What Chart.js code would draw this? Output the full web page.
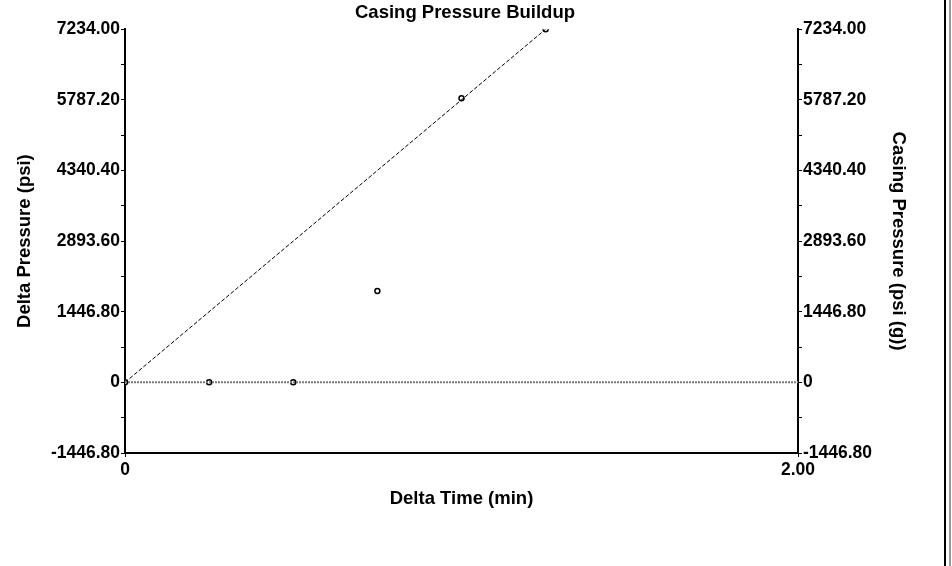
<!DOCTYPE html>
<html>
<head>
<meta charset="utf-8">
<title>Casing Pressure Buildup</title>
<script src="https://cdn.jsdelivr.net/npm/chart.js@4.4.1/dist/chart.umd.min.js"></script>
<style>
    body { margin: 0; background: #fff; }
    #wrap { position: relative; width: 952px; height: 566px; overflow: hidden; }
    #frameDark { position: absolute; left: 944px; top: 0; width: 2px; height: 566px; background: #000; }
    #frameLight { position: absolute; left: 949px; top: 0; width: 2px; height: 566px; background: #9a9a9a; }
</style>
</head>
<body>
<div id="wrap">
    <canvas id="buildupChart" width="952" height="566"></canvas>
    <div id="frameDark"></div>
    <div id="frameLight"></div>
</div>
<script>
// data
const timeMin = [0, 0.25, 0.5, 0.75, 1.0, 1.25];
const casingPsi = [0, 0, 0, 1870, 5820, 7234];
const trendTime = [0, 1.25];
const trendPsi = [0, 7234];
const baseTime = [0, 2.0];
const basePsi = [0, 0];

const yTicks = [-1446.8, 0, 1446.8, 2893.6, 4340.4, 5787.2, 7234];
const yTickLabels = ["-1446.80", "0", "1446.80", "2893.60", "4340.40", "5787.20", "7234.00"];
const xTicks = [0, 2.0];
const xTickLabels = ["0", "2.00"];

const FONT = "'Liberation Sans', Arial, sans-serif";

function toPoints(xs, ys) {
    return xs.map((x, i) => ({ x: x, y: ys[i] }));
}

// major ticks plus unlabeled minor ticks half way between
function yTickList() {
    const list = [];
    yTicks.forEach((v, i) => {
        list.push({ value: v });
        if (i < yTicks.length - 1) list.push({ value: (v + yTicks[i + 1]) / 2, minor: true });
    });
    return list;
}

function yLabel(value) {
    const i = yTicks.findIndex(v => Math.abs(v - value) < 0.01);
    return i >= 0 ? yTickLabels[i] : "";
}

const tickFont = { family: FONT, size: 17.5, weight: "bold" };
const titleFont = { family: FONT, size: 18.5, weight: "bold" };

new Chart(document.getElementById("buildupChart"), {
    type: "line",
    data: {
        datasets: [
            {
                label: "Zero",
                data: toPoints(baseTime, basePsi),
                borderColor: "#7a7a7a",
                borderWidth: 2,
                borderDash: [2, 1],
                pointRadius: 0,
                yAxisID: "y"
            },
            {
                label: "Trend",
                data: toPoints(trendTime, trendPsi),
                borderColor: "#000",
                borderWidth: 1,
                borderDash: [4, 2],
                pointRadius: 0,
                yAxisID: "y"
            },
            {
                label: "Casing Pressure",
                data: toPoints(timeMin, casingPsi),
                showLine: false,
                pointRadius: 2.5,
                pointBorderWidth: 1.5,
                pointBorderColor: "#000",
                pointBackgroundColor: "#fff",
                yAxisID: "y"
            }
        ]
    },
    options: {
        responsive: false,
        animation: false,
        layout: { padding: { left: 0, right: 22, top: 0, bottom: 0 } },
        plugins: {
            legend: { display: false },
            tooltip: { enabled: false },
            title: {
                display: true,
                text: "Casing Pressure Buildup",
                color: "#000",
                font: titleFont,
                padding: { top: 2, bottom: 5 }
            }
        },
        scales: {
            x: {
                type: "linear",
                position: "bottom",
                min: 0,
                max: 2,
                afterBuildTicks: s => { s.ticks = xTicks.map(v => ({ value: v })); },
                afterFit: s => { s.height = 113; },
                ticks: {
                    color: "#000",
                    font: tickFont,
                    padding: 3,
                    maxRotation: 0,
                    autoSkip: false,
                    callback: v => xTickLabels[xTicks.indexOf(v)]
                },
                grid: { drawOnChartArea: false, tickLength: 4, color: "#000" },
                border: { color: "#000", width: 2 },
                title: {
                    display: true,
                    text: "Delta Time (min)",
                    color: "#000",
                    font: titleFont,
                    padding: { top: 0, bottom: 56 }
                }
            },
            y: {
                type: "linear",
                position: "left",
                min: -1446.8,
                max: 7234,
                afterBuildTicks: s => { s.ticks = yTickList(); },
                afterFit: s => { s.width = 125; },
                ticks: {
                    color: "#000",
                    font: tickFont,
                    padding: 1,
                    autoSkip: false,
                    callback: v => yLabel(v)
                },
                grid: { drawOnChartArea: false, tickLength: 4, color: "#000" },
                border: { color: "#000", width: 2 },
                title: {
                    display: true,
                    text: "Delta Pressure (psi)",
                    color: "#000",
                    font: titleFont,
                    padding: { top: 14, bottom: 0 }
                }
            },
            y2: {
                type: "linear",
                position: "right",
                min: -1446.8,
                max: 7234,
                afterBuildTicks: s => { s.ticks = yTickList(); },
                afterFit: s => { s.width = 132; },
                ticks: {
                    color: "#000",
                    font: tickFont,
                    padding: 1,
                    autoSkip: false,
                    callback: v => yLabel(v)
                },
                grid: { drawOnChartArea: false, tickLength: 4, color: "#000" },
                border: { color: "#000", width: 2 },
                title: {
                    display: true,
                    text: "Casing Pressure (psi (g))",
                    color: "#000",
                    font: titleFont,
                    padding: { top: 21, bottom: 0 }
                }
            }
        }
    }
});
</script>
</body>
</html>
